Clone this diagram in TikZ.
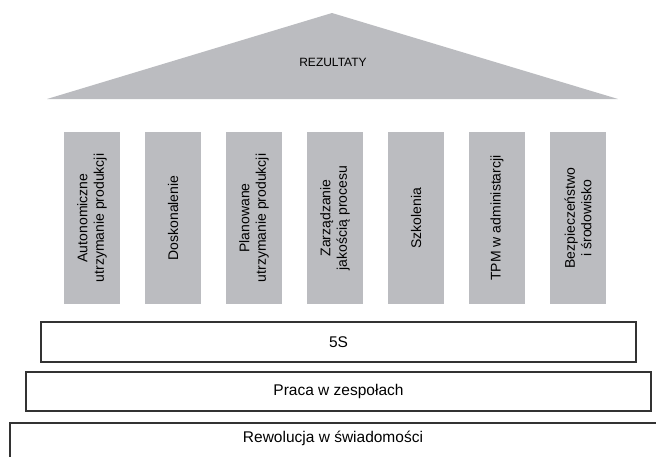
\documentclass[tikz,border=0pt]{standalone}
\usepackage{fontspec}
\setmainfont{Liberation Sans}
\definecolor{pgray}{HTML}{BBBCC0}
\definecolor{edge}{HTML}{333333}
\begin{document}
\begin{tikzpicture}[x=1pt,y=-1pt,
  pillar/.style={fill=pgray, draw=none, rotate=90, minimum width=172pt, minimum height=56pt,
    inner sep=0pt, align=center, font=\fontsize{14}{16.5}\selectfont},
  bar/.style={draw=edge, line width=1.2pt, fill=white, inner sep=0pt,
    font=\fontsize{15.5}{17}\selectfont},
  roof/.style={fill=pgray, draw=none}]
\useasboundingbox (0,0) rectangle (656,456);
% roof
\coordinate (rl) at (47,99);
\coordinate (ra) at (332,13);
\coordinate (rr) at (618,99);
\path[roof] (rl) -- (ra) -- (rr) -- cycle;
\node[font=\fontsize{12}{14}\selectfont] (rez) at (333,62) {REZULTATY};
% pillars
\node[pillar] (p1) at (92,218) {Autonomiczne\\utrzymanie produkcji};
\node[pillar] (p2) at (173,218) {Doskonalenie};
\node[pillar] (p3) at (254,218) {Planowane\\utrzymanie produkcji};
\node[pillar] (p4) at (335,218) {Zarządzanie\\jakością procesu};
\node[pillar] (p5) at (416,218) {Szkolenia};
\node[pillar] (p6) at (497,218) {TPM w administarcji};
\node[pillar] (p7) at (578,218) {Bezpieczeństwo\\i środowisko};
% foundation bars
\node[bar, minimum width=595pt, minimum height=40pt] (s5) at (338.5,342) {5S};
\node[bar, minimum width=625pt, minimum height=39pt] (pr) at (338.5,391.5) {Praca w zespołach};
\draw[edge, line width=1.2pt, fill=white] (10,470) -- (10,423) -- (680,423) -- (680,470);
\node[font=\fontsize{15.5}{17}\selectfont] (rw) at (333,438) {Rewolucja w świadomości};
\end{tikzpicture}
\end{document}
